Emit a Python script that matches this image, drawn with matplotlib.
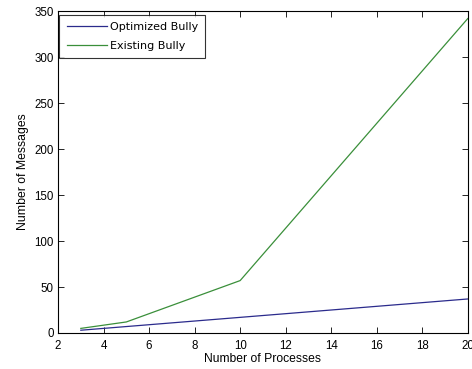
import matplotlib
matplotlib.use('Agg')
import matplotlib.pyplot as plt

# data
processes = [3, 5, 10, 20]
optimized = [3, 7, 17, 37]
existing = [5, 12, 57, 342]

plt.rcParams['font.family'] = ['Liberation Sans', 'DejaVu Sans']
plt.rcParams['font.size'] = 8

fig = plt.figure(figsize=(4.72, 3.69), dpi=100)
ax = fig.add_axes([0.123, 0.0976, 0.868, 0.872])

ax.plot(processes, optimized, color='#2b2b8c', lw=0.9, label='Optimized Bully')
ax.plot(processes, existing, color='#3a8f3a', lw=0.9, label='Existing Bully')

ax.set_xlim(2, 20)
ax.set_ylim(0, 350)
ax.set_xticks(range(2, 21, 2))
ax.set_yticks(range(0, 351, 50))
ax.tick_params(direction='in', top=True, right=True, length=4, width=0.6, labelsize=8.3)
ax.tick_params(axis='x', pad=5)
ax.tick_params(axis='y', pad=3)
for s in ax.spines.values():
    s.set_linewidth(0.8)

ax.set_xlabel('Number of Processes', fontsize=8.7, labelpad=1)
ax.set_ylabel('Number of Messages', fontsize=8.8, labelpad=4)

# legend text is wider in the original, DejaVu fits the width
leg = ax.legend(loc='upper left', bbox_to_anchor=(0.003, 0.988),
                prop={'family': 'DejaVu Sans', 'size': 8},
                frameon=True, fancybox=False, edgecolor='black', borderaxespad=0,
                handlelength=3.6, borderpad=0.65, labelspacing=0.75, handletextpad=0.3)
leg.get_frame().set_linewidth(0.8)

fig.savefig('out.png', dpi=100)
